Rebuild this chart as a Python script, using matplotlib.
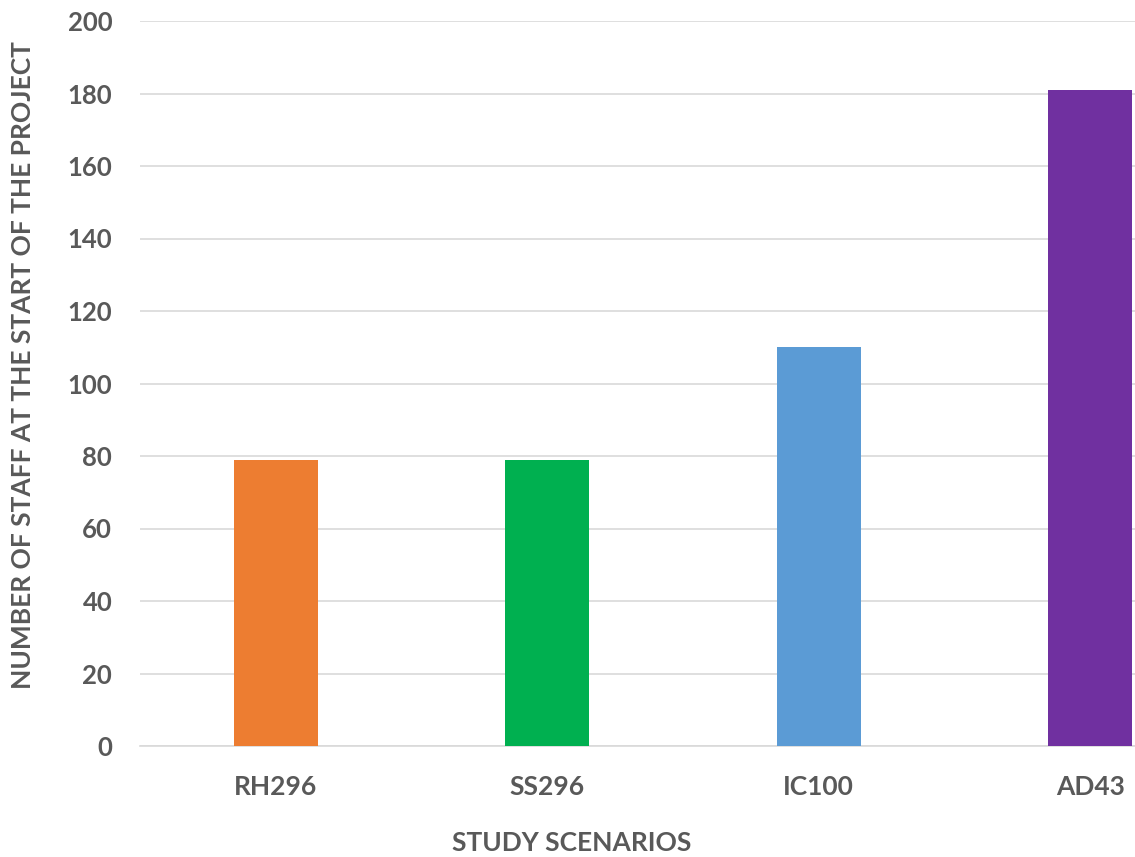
import matplotlib
matplotlib.use("Agg")
import matplotlib.pyplot as plt

scenarios = ["RH296", "SS296", "IC100", "AD43"]
staff = [79, 79, 110, 181]
bar_colors = ["#ED7D31", "#00B050", "#5B9BD5", "#7030A0"]
y_ticks = list(range(0, 201, 20))

plt.rcParams["font.family"] = ["Lato", "DejaVu Sans"]
text_color = "#595959"

W, H = 1135, 857
fig = plt.figure(figsize=(W / 100, H / 100), dpi=100)
ax = fig.add_axes([140 / W, (H - 746) / H, (W - 140) / W, 725 / H])

x = list(range(len(scenarios)))
ax.bar(x, staff, width=0.31, color=bar_colors, zorder=3)

ax.set_ylim(0, 200)
ax.set_xlim(-0.5, -0.5 + (W - 140) / 271.5)
ax.set_yticks(y_ticks)
ax.set_xticks(x)
ax.set_xticklabels(scenarios)
ax.yaxis.grid(True, color="#D9D9D9", linewidth=1.2, zorder=0)
ax.set_axisbelow(True)
for side in ["top", "right", "left"]:
    ax.spines[side].set_visible(False)
ax.spines["bottom"].set_color("#D9D9D9")
ax.spines["bottom"].set_linewidth(1.2)
ax.tick_params(axis="both", length=0, labelcolor=text_color)
ax.tick_params(axis="y", pad=20, labelsize=18.5)
ax.tick_params(axis="x", pad=21, labelsize=19)
for lbl in ax.get_xticklabels() + ax.get_yticklabels():
    lbl.set_fontweight("bold")

fig.text(572 / W, 1 - 843 / H, "STUDY SCENARIOS", ha="center", va="center",
         fontsize=19, fontweight="bold", color=text_color)
fig.text(23 / W, 1 - 365 / H, "NUMBER OF STAFF AT THE START OF THE PROJECT",
         ha="center", va="center", rotation=90, fontsize=19,
         fontweight="bold", color=text_color)

fig.savefig("out.png", dpi=100)
